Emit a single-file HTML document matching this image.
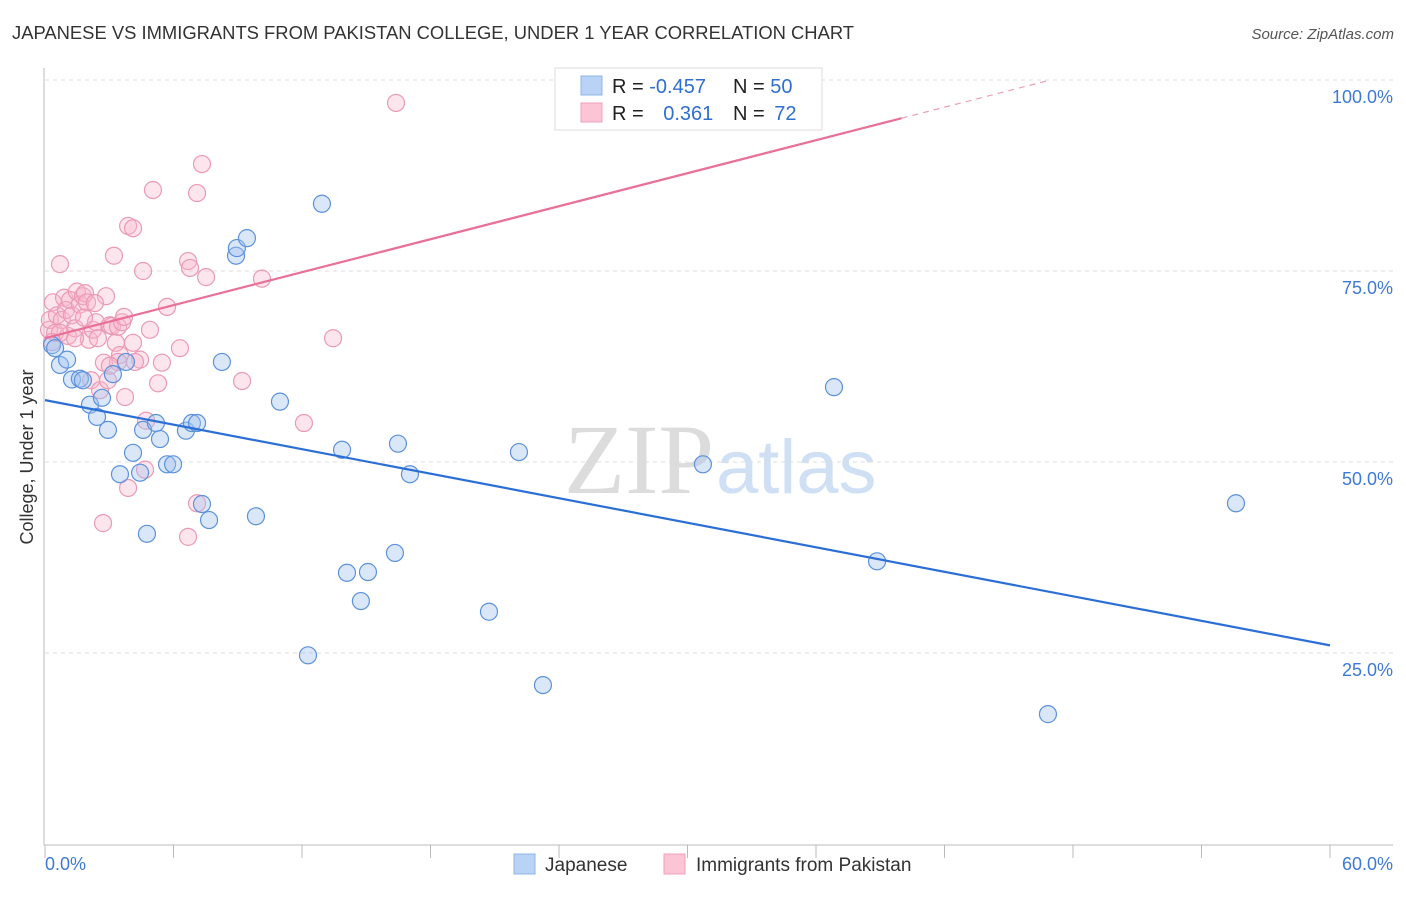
<!DOCTYPE html>
<html><head><meta charset="utf-8"><style>
body{margin:0;background:#fff;font-family:"Liberation Sans",sans-serif}
</style></head><body>
<svg id="c" width="1406" height="892" xmlns="http://www.w3.org/2000/svg" style="font-family:'Liberation Sans',sans-serif">
<text x="12" y="39" font-size="18.4" fill="#333">JAPANESE VS IMMIGRANTS FROM PAKISTAN COLLEGE, UNDER 1 YEAR CORRELATION CHART</text>
<text x="1394" y="39" font-size="15" fill="#555" text-anchor="end" font-style="italic">Source: ZipAtlas.com</text>
<text x="33" y="457" font-size="18" fill="#333" text-anchor="middle" transform="rotate(-90 33 457)">College, Under 1 year</text>
<text x="714" y="493" font-size="100" fill="#dcdcdc" text-anchor="end" font-family="Liberation Serif">ZIP</text>
<text x="716" y="493" font-size="76" fill="#cfe0f4">atlas</text>
<g id="grid"></g><g id="marks"></g><g id="lines"></g>
<g>
<rect x="555" y="68" width="267" height="62" fill="#fff" stroke="#ddd"/>
<rect x="581" y="76" width="21" height="19" fill="#b8d3f5" stroke="#8fb5e8"/>
<rect x="581" y="103" width="21" height="19" fill="#fbc5d5" stroke="#f0a0b8"/>
<text x="612" y="93" font-size="20" fill="#222">R = <tspan fill="#2f6fd0">-0.457</tspan></text>
<text x="733" y="93" font-size="20" fill="#222">N = <tspan fill="#2f6fd0">50</tspan></text>
<text x="612" y="120" font-size="20" fill="#222">R = <tspan fill="#2f6fd0" dx="14">0.361</tspan></text>
<text x="733" y="120" font-size="20" fill="#222">N = <tspan fill="#2f6fd0" dx="4">72</tspan></text>
</g>
<g>
<rect x="514" y="854" width="21" height="20" fill="#b8d3f5" stroke="#8fb5e8"/>
<text x="545" y="871" font-size="19" fill="#333">Japanese</text>
<rect x="664" y="854" width="21" height="20" fill="#fbc5d5" stroke="#f0a0b8"/>
<text x="696" y="871" font-size="19" fill="#333">Immigrants from Pakistan</text>
</g>
</svg>
<script>
const yTicks=[25,50,75,100];
const yTickLabels=["25.0%","50.0%","75.0%","100.0%"];
const xTicks=[0,6,12,18,24,30,36,42,48,54,60];
const japX=[0.33,0.47,0.70,1.03,1.26,1.63,1.77,2.10,2.43,2.66,2.94,3.17,3.50,3.78,4.11,4.44,4.58,4.76,5.18,5.37,5.70,5.98,6.58,6.86,7.10,7.33,7.66,8.26,8.92,8.96,9.43,9.85,10.97,12.28,12.93,13.87,14.10,14.75,15.08,16.34,16.48,17.04,20.73,22.13,23.25,30.72,36.84,38.85,46.83,55.61];
const japY=[65.3,64.9,62.7,63.4,60.8,60.9,60.7,57.5,55.9,58.4,54.2,61.5,48.4,63.1,51.2,48.6,54.2,40.6,55.1,53.0,49.7,49.7,54.1,55.1,55.1,44.5,42.4,63.1,77.0,78.0,79.3,42.9,57.9,24.7,83.8,51.6,35.5,31.8,35.6,38.1,52.4,48.4,30.4,51.3,20.8,49.7,59.8,37.0,17.0,44.6];
const pakX=[0.19,0.23,0.37,0.47,0.56,0.70,0.79,0.89,0.98,1.07,1.17,1.26,1.40,1.49,1.63,1.77,1.87,1.96,2.05,2.15,2.24,2.38,2.47,2.57,2.71,2.75,2.85,2.94,3.03,3.13,3.22,3.31,3.41,3.50,3.60,3.69,3.74,3.88,3.88,4.11,4.11,4.44,4.58,4.72,4.90,5.04,5.28,5.46,5.70,6.30,6.68,6.77,6.68,7.10,7.10,7.33,7.52,9.20,10.13,12.09,13.45,16.39,35.25,3.41,1.40,0.70,4.20,4.67,0.33,2.33,1.82,3.03];
const pakY=[67.3,68.6,70.9,66.9,69.2,75.9,68.6,71.5,69.9,66.5,71.2,69.2,67.5,72.3,70.6,71.7,72.1,70.9,66.0,60.7,67.3,68.3,66.2,59.4,42.0,63.0,71.7,60.7,67.9,67.8,77.0,65.6,67.7,64.0,68.3,69.0,58.5,46.6,80.9,80.6,65.6,63.4,75.0,55.4,67.3,85.6,60.3,63.0,70.3,64.9,76.3,75.4,40.2,44.6,85.2,89.0,74.2,60.6,74.0,55.1,66.2,97.0,100.0,63.1,66.2,66.9,63.1,49.0,65.7,70.8,68.9,62.6];
const japTrend=[58.1,26.0];
const pakTrend=[66.2,0.72];
const NS="http://www.w3.org/2000/svg";
const X=v=>45+v/60*1285, Y=v=>844-v/100*764;
function mk(t,a,p){const e=document.createElementNS(NS,t);for(const k in a)e.setAttribute(k,a[k]);p.appendChild(e);return e;}
const g=document.getElementById('grid'),m=document.getElementById('marks'),l=document.getElementById('lines');
yTicks.forEach((v,i)=>{
 const ln=mk('line',{x1:45,x2:1393,y1:Y(v),y2:Y(v),stroke:'#ddd','stroke-dasharray':'4 4'},g);
 
 
 const t=mk('text',{x:1393,y:Y(v)+23,'font-size':18,fill:'#3d7ad6','text-anchor':'end'},g);t.textContent=yTickLabels[i];
 
 
});
let ax=mk('line',{x1:44,x2:44,y1:68,y2:845,stroke:'#bbb'},g);


ax=mk('line',{x1:44,x2:1393,y1:845,y2:845,stroke:'#bbb'},g);


xTicks.forEach(v=>{const t=mk('line',{x1:X(v),x2:X(v),y1:845,y2:858,stroke:'#bbb'},g);
 
 });
let t=mk('text',{x:45,y:870,'font-size':18,fill:'#3d7ad6'},g);t.textContent="0.0%";


t=mk('text',{x:1393,y:870,'font-size':18,fill:'#3d7ad6','text-anchor':'end'},g);t.textContent="60.0%";


pakX.forEach((v,i)=>{const c=mk('circle',{cx:X(v),cy:Y(pakY[i]),r:8.5,fill:'rgba(248,180,202,0.35)',stroke:'#eb9ab5','stroke-width':1.2},m);
 
 });
japX.forEach((v,i)=>{const c=mk('circle',{cx:X(v),cy:Y(japY[i]),r:8.5,fill:'rgba(160,196,240,0.4)',stroke:'#5d92db','stroke-width':1.2},m);
 
 });
let tl=mk('line',{x1:X(0),y1:Y(japTrend[0]),x2:X(60),y2:Y(japTrend[1]),stroke:'#2b6fd6','stroke-width':2.2},l);


const xEnd=(100-pakTrend[0])/pakTrend[1];
tl=mk('line',{x1:X(0),y1:Y(pakTrend[0]),x2:X(40),y2:Y(pakTrend[0]+40*pakTrend[1]),stroke:'#e8709a','stroke-width':2.2},l);


tl=mk('line',{x1:X(40),y1:Y(pakTrend[0]+40*pakTrend[1]),x2:X(xEnd),y2:Y(100),stroke:'#eaa0b8','stroke-width':1.2,'stroke-dasharray':'6 5'},l);


</script>
</body></html>
